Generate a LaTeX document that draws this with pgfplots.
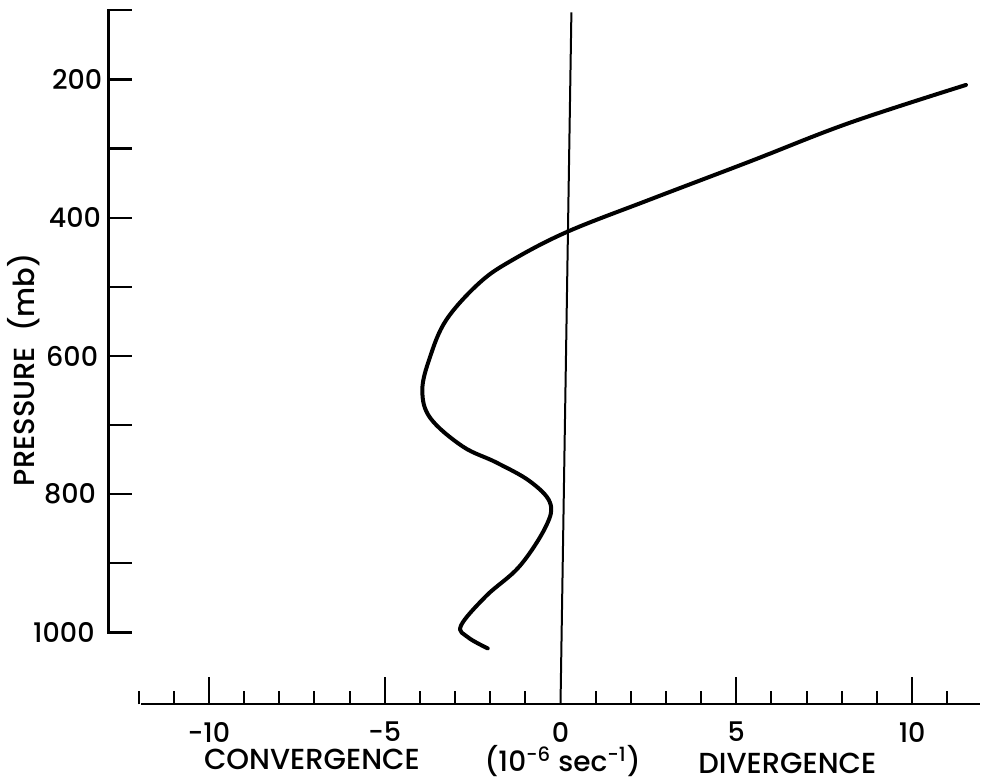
\documentclass[border=0pt]{standalone}
\usepackage{pgfplots}
\pgfplotsset{compat=1.18}
\usepackage{fontspec}
\IfFontExistsTF{Poppins Medium}{\setmainfont{Poppins Medium}}{\setmainfont{Poppins}}
\begin{document}
\begin{tikzpicture}
\begin{axis}[
  scale only axis, width=490.5pt, height=391.5pt,
  xmin=-15.94, xmax=11.93, ymin=85.1, ymax=1216.6, y dir=reverse,
  hide axis, clip=false,
]
\path (rel axis cs:0,0) rectangle (rel axis cs:1,1);
% left pressure axis
\draw[line width=1.2pt, line cap=rect] (axis cs:-12.86,100) -- (axis cs:-12.86,1000);
\pgfplotsinvokeforeach{100,200,...,1000}{\draw[line width=1.1pt] (axis cs:-12.86,#1) -- (axis cs:-12.2,#1);}
\node[anchor=east, inner sep=0pt, font=\fontsize{13.5}{15}\selectfont] at (axis cs:-13.02,200) {200};
\node[anchor=east, inner sep=0pt, font=\fontsize{13.5}{15}\selectfont] at (axis cs:-13.06,400) {400};
\node[anchor=east, inner sep=0pt, font=\fontsize{13.5}{15}\selectfont] at (axis cs:-13.14,600) {600};
\node[anchor=east, inner sep=0pt, font=\fontsize{13.5}{15}\selectfont] at (axis cs:-13.2,800) {800};
\node[anchor=east, inner sep=0pt, font=\fontsize{13.5}{15}\selectfont] at (axis cs:-13.24,1000) {1000};
\node[rotate=90, font=\fontsize{14.5}{16}\selectfont] at (axis cs:-15.28,620) {PRESSURE\ \ (mb)};
% bottom divergence axis
\draw[line width=1pt] (axis cs:-11.93,1104) -- (axis cs:11.93,1104);
\pgfplotsinvokeforeach{-12,-11,-9,-8,-7,-6,-4,-3,-2,-1,1,2,3,4,6,7,8,9,11}{\draw[line width=1pt] (axis cs:#1,1104) -- (axis cs:#1,1085);}
\pgfplotsinvokeforeach{-10,-5,5,10}{\draw[line width=1pt] (axis cs:#1,1104) -- (axis cs:#1,1065);}
\draw[line width=1pt] (axis cs:0,1104) -- (axis cs:0.31,103);
\pgfplotsinvokeforeach{-10,-5,0,5,10}{\node[font=\fontsize{13.5}{15}\selectfont] at (axis cs:#1,1144) {#1};}
\node[font=\fontsize{14.5}{16}\selectfont] at (axis cs:-7.07,1183) {CONVERGENCE};
\node[font=\fontsize{14}{16}\selectfont] at (axis cs:0.06,1186) {(10\textsuperscript{-6} sec\textsuperscript{-1})};
\node[font=\fontsize{14.5}{16}\selectfont, inner sep=1pt] at (axis cs:6.45,1190) {DIVERGENCE};
% divergence profile
\addplot[line width=2pt, black, smooth, tension=0.6, line cap=round] coordinates {
(11.53,208) (8.21,263) (5.37,319) (2.53,374) (0.21,420) (-1.36,461)
(-2.30,494) (-3.25,548) (-3.72,603) (-3.93,650) (-3.70,690) (-2.78,731)
(-1.83,754) (-0.88,781) (-0.30,812) (-0.41,846) (-1.16,904) (-2.11,947)
(-2.83,990) (-2.63,1007) (-2.07,1023)
};
\end{axis}
\end{tikzpicture}
\end{document}
